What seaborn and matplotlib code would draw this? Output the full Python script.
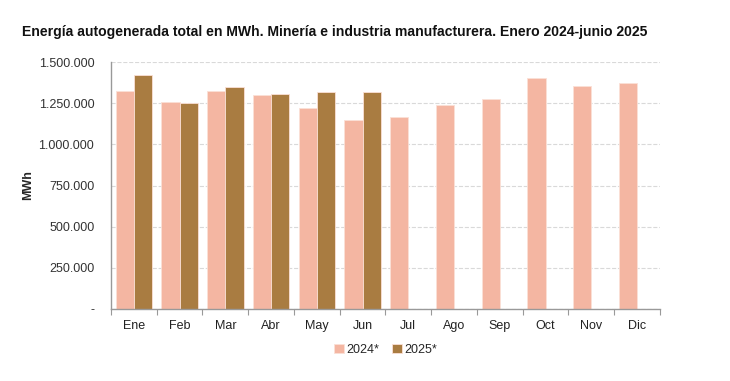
import pandas as pd
import numpy as np
import matplotlib.pyplot as plt
import seaborn as sns
from matplotlib.ticker import FuncFormatter, FixedLocator

# Data
meses = ['Ene', 'Feb', 'Mar', 'Abr', 'May', 'Jun', 'Jul', 'Ago', 'Sep', 'Oct', 'Nov', 'Dic']
valores_2024 = [1324000, 1259000, 1326000, 1300000, 1223000, 1146000,
                1166000, 1239000, 1273000, 1401000, 1354000, 1374000]
valores_2025 = [1421000, 1253000, 1348000, 1308000, 1316000, 1318000,
                np.nan, np.nan, np.nan, np.nan, np.nan, np.nan]
series = ['2024*', '2025*']

df = pd.DataFrame({
    'Mes': meses * 2,
    'Serie': [series[0]] * 12 + [series[1]] * 12,
    'MWh': valores_2024 + valores_2025,
})

sns.set_theme(style='white')
plt.rcParams['font.family'] = ['Liberation Sans', 'DejaVu Sans']

fig = plt.figure(figsize=(7.3, 3.81), dpi=100)
ax = fig.add_axes([0.152, 0.189, 0.752, 0.648])

sns.barplot(data=df, x='Mes', y='MWh', hue='Serie', order=meses,
            palette=['#F4B6A2', '#A97C41'], saturation=1, width=0.8, ax=ax,
            edgecolor='#FBE0D6', linewidth=0.6, legend=True)

ax.set_ylim(0, 1500000)
ax.set_xlim(-0.5, 11.5)
ax.yaxis.set_major_locator(FixedLocator(np.arange(0, 1500001, 250000)))
ax.yaxis.set_major_formatter(FuncFormatter(
    lambda v, p: '-' if v == 0 else f'{int(v):,}'.replace(',', '.')))
ax.grid(axis='y', color='#D9D9D9', linestyle='--', linewidth=0.8)
ax.set_axisbelow(True)

# ticks on category boundaries
ax.set_xticks(np.arange(12))
ax.set_xticks(np.arange(-0.5, 12, 1), minor=True)
ax.tick_params(axis='x', which='major', length=0, pad=8, labelsize=9, colors='#222222')
ax.tick_params(axis='x', which='minor', length=4, width=0.8, color='#999999', bottom=True)
ax.tick_params(axis='y', length=0, pad=12, labelsize=9, colors='#333333')

for s in ['top', 'right']:
    ax.spines[s].set_visible(False)
for s in ['left', 'bottom']:
    ax.spines[s].set_color('#999999')
    ax.spines[s].set_linewidth(1.0)

ax.set_xlabel('')
ax.set_ylabel('MWh', fontsize=9, fontweight='bold')
ax.yaxis.set_label_coords(-0.14, 0.5)

leg = ax.legend(loc='upper center', bbox_to_anchor=(0.5, -0.095), ncol=2, frameon=False,
                fontsize=9, handlelength=0.8, handleheight=0.8, handletextpad=0.2,
                columnspacing=1.0)

fig.text(0.03, 0.905, 'Energía autogenerada total en MWh. Minería e industria manufacturera. Enero 2024-junio 2025',
         fontsize=10.1, fontweight='bold', color='#111111')

fig.savefig('out.png', dpi=100)
